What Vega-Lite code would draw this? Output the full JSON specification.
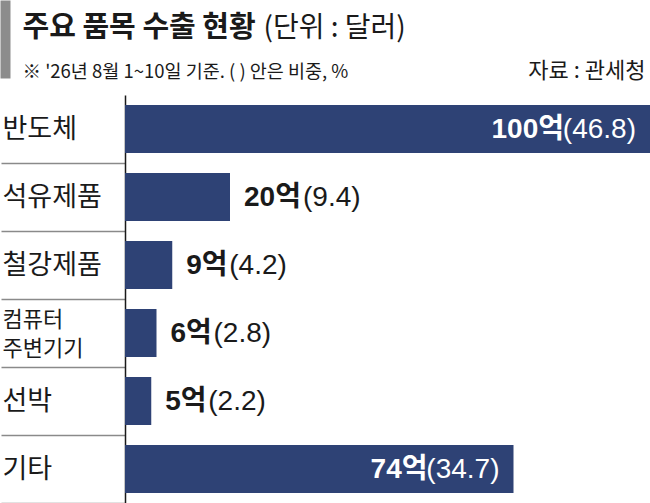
{
  "$schema": "https://vega.github.io/schema/vega-lite/v6.json",
  "width": 525,
  "height": 408,
  "autosize": {"type": "none"},
  "padding": {"left": 125, "top": 95, "right": 0, "bottom": 0},
  "background": "white",
  "data": {
    "values": [
      {"item": "반도체", "value": 100, "amount": "100억", "share": "(46.8)", "inside": true, "digits": 3},
      {"item": "석유제품", "value": 20, "amount": "20억", "share": "(9.4)", "inside": false, "digits": 2},
      {"item": "철강제품", "value": 9, "amount": "9억", "share": "(4.2)", "inside": false, "digits": 1},
      {"item": "컴퓨터 주변기기", "value": 6, "amount": "6억", "share": "(2.8)", "inside": false, "digits": 1},
      {"item": "선박", "value": 5, "amount": "5억", "share": "(2.2)", "inside": false, "digits": 1},
      {"item": "기타", "value": 74, "amount": "74억", "share": "(34.7)", "inside": true, "digits": 2}
    ]
  },
  "config": {"view": {"stroke": null}},
  "resolve": {"scale": {"x": "independent", "y": "independent"}, "axis": {"x": "independent", "y": "independent"}},
  "layer": [
    {
      "mark": {"type": "bar", "color": "#2e4275"},
      "encoding": {
        "y": {
          "field": "item", "type": "nominal", "sort": null,
          "scale": {"domain": ["반도체", "석유제품", "철강제품", "컴퓨터 주변기기", "선박", "기타"], "paddingInner": 0.294, "paddingOuter": 0.147},
          "axis": {
            "orient": "left",
            "domain": true, "domainColor": "#1a1a1a", "domainWidth": 1.5,
            "ticks": true, "tickSize": 124, "tickColor": "#8a8a8a", "tickWidth": 1.5, "tickOffset": 34,
            "labelOffset": {"condition": {"test": "datum.value == '컴퓨터 주변기기'", "value": -48}, "value": -34},
            "labelAlign": "left", "labelPadding": -1, "labelBaseline": "middle",
            "labelFont": "Noto Sans CJK KR", "labelColor": "#1a1a1a",
            "labelFontSize": {"condition": {"test": "datum.value == '컴퓨터 주변기기'", "value": 22}, "value": 27},
            "labelLineHeight": 29,
            "labelExpr": "datum.value == '컴퓨터 주변기기' ? ['컴퓨터', '주변기기'] : datum.label",
            "labelLimit": 0,
            "grid": false,
            "title": "주요 품목 수출 현황",
            "titleAngle": 0, "titleAlign": "left", "titleBaseline": "alphabetic",
            "titleX": -103, "titleY": -59,
            "titleFont": "Noto Sans CJK KR", "titleFontWeight": "bold", "titleFontSize": 29, "titleColor": "#1a1a1a"
          }
        },
        "x": {
          "field": "value", "type": "quantitative",
          "scale": {"domain": [0, 100], "nice": false, "zero": true},
          "axis": {
            "orient": "top", "offset": 17, "values": [0],
            "domain": false, "labels": false, "grid": false,
            "ticks": true, "tickSize": 78, "tickWidth": 10, "tickColor": "#8c8c8c", "tickOffset": -120,
            "title": "※ '26년 8월 1~10일 기준. ( ) 안은 비중, %",
            "titleAngle": 0, "titleAlign": "left", "titleBaseline": "alphabetic",
            "titleX": -103, "titleY": -1,
            "titleFont": "Noto Sans CJK KR", "titleFontWeight": "normal", "titleFontSize": 18.5, "titleColor": "#1a1a1a"
          }
        }
      }
    },
    {
      "encoding": {
        "y": {
          "field": "item", "type": "nominal", "sort": null,
          "scale": {"domain": ["반도체", "석유제품", "철강제품", "컴퓨터 주변기기", "선박", "기타"], "paddingInner": 0.294, "paddingOuter": 0.147},
          "axis": {
            "orient": "right", "domain": false, "ticks": false, "labels": false, "grid": false,
            "title": "(단위 : 달러)",
            "titleAngle": 0, "titleAlign": "left", "titleBaseline": "alphabetic",
            "titleX": -387, "titleY": -59,
            "titleFont": "Noto Sans CJK KR", "titleFontWeight": "normal", "titleFontSize": 28, "titleColor": "#1a1a1a"
          }
        },
        "x": {
          "field": "value", "type": "quantitative",
          "scale": {"domain": [0, 100], "nice": false, "zero": true},
          "axis": {
            "orient": "bottom", "domain": false, "ticks": false, "labels": false, "grid": false,
            "title": "자료 : 관세청",
            "titleAngle": 0, "titleAlign": "right", "titleBaseline": "alphabetic",
            "titleX": 520, "titleY": -426,
            "titleFont": "Noto Sans CJK KR", "titleFontWeight": "normal", "titleFontSize": 22, "titleColor": "#1a1a1a"
          }
        }
      },
      "layer": [
        {
          "transform": [{"filter": "datum.inside"}],
          "mark": {"type": "text", "align": "right", "baseline": "middle", "dx": -14, "dy": 1, "font": "Liberation Sans, Noto Sans CJK KR", "fontSize": 28, "color": "white"},
          "encoding": {"text": {"field": "share"}}
        },
        {
          "transform": [{"filter": "datum.inside"}],
          "mark": {"type": "text", "align": "right", "baseline": "middle", "dx": -86, "dy": 1, "font": "Liberation Sans, Noto Sans CJK KR", "fontWeight": "bold", "fontSize": 28, "color": "white"},
          "encoding": {"text": {"field": "amount"}}
        },
        {
          "transform": [{"filter": "!datum.inside"}],
          "mark": {"type": "text", "align": "left", "baseline": "middle", "dx": 14, "dy": 1, "font": "Liberation Sans, Noto Sans CJK KR", "fontWeight": "bold", "fontSize": 28, "color": "#1a1a1a"},
          "encoding": {"text": {"field": "amount"}}
        },
        {
          "transform": [{"filter": "!datum.inside && datum.digits == 1"}],
          "mark": {"type": "text", "align": "left", "baseline": "middle", "dx": 57, "dy": 1, "font": "Liberation Sans, Noto Sans CJK KR", "fontSize": 28, "color": "#1a1a1a"},
          "encoding": {"text": {"field": "share"}}
        },
        {
          "transform": [{"filter": "!datum.inside && datum.digits == 2"}],
          "mark": {"type": "text", "align": "left", "baseline": "middle", "dx": 73, "dy": 1, "font": "Liberation Sans, Noto Sans CJK KR", "fontSize": 28, "color": "#1a1a1a"},
          "encoding": {"text": {"field": "share"}}
        }
      ]
    }
  ]
}
